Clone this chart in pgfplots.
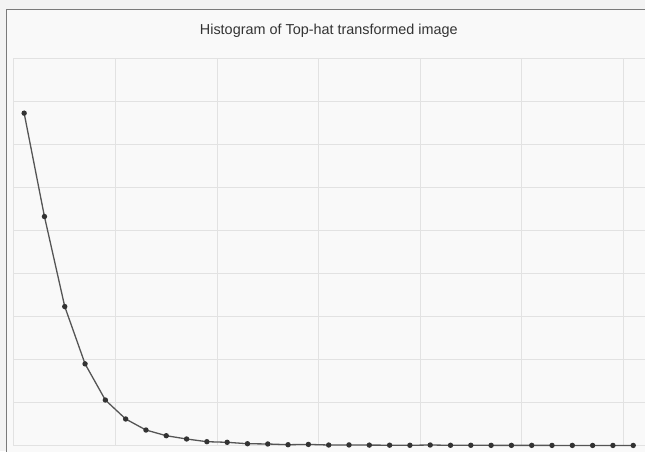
\documentclass[border=0pt]{standalone}
\usepackage{pgfplots}
\pgfplotsset{compat=1.18}
\usepackage{fontspec}
\setmainfont{Liberation Sans}

\definecolor{pagebg}{HTML}{F3F3F3}
\definecolor{panelbg}{HTML}{F9F9F9}
\definecolor{framecol}{HTML}{7A7A7A}
\definecolor{gridcol}{HTML}{E2E2E2}
\definecolor{linecol}{HTML}{555555}
\definecolor{markcol}{HTML}{333333}

\pgfplotstableread{
x     y
0.5   7.72
1.5   5.32
2.5   3.23
3.5   1.90
4.5   1.06
5.5   0.62
6.5   0.364
7.5   0.232
8.5   0.156
9.5   0.093
10.5  0.079
11.5  0.046
12.5  0.040
13.5  0.023
14.5  0.030
15.5  0.016
16.5  0.018
17.5  0.014
18.5  0.012
19.5  0.010
20.5  0.016
21.5  0.010
22.5  0.010
23.5  0.008
24.5  0.008
25.5  0.008
26.5  0.007
27.5  0.007
28.5  0.006
29.5  0.006
30.5  0.006
}\histdata

\begin{document}
\begin{tikzpicture}[x=1pt,y=1pt]
\useasboundingbox (0,0) rectangle (645,451);
\clip (0,0) rectangle (645,451);
\fill[pagebg] (0,0) rectangle (645,451);
\fill[panelbg] (6.5,-5) rectangle (660,441.5);
\draw[framecol, line width=1.8pt] (6.5,-5) -- (6.5,441.5) -- (660,441.5);
\node[anchor=base, font=\fontsize{14.4}{17}\selectfont, text=markcol, inner sep=0pt]
  at (328.8,416) {Histogram of Top-hat transformed image};
\begin{axis}[
  at={(14pt,5.3pt)}, anchor=origin,
  scale only axis,
  width=631pt, height=387.7pt,
  xmin=0, xmax=31.08,
  ymin=0, ymax=9,
  xtick={0,5,...,30},
  ytick={0,1,...,9},
  xticklabels={}, yticklabels={},
  major tick length=0pt,
  axis line style={draw=none},
  grid=major,
  grid style={gridcol, line width=1pt},
  clip=false,
]
\addplot[linecol, line width=1.3pt, mark=*, mark size=2pt,
  mark options={fill=markcol, draw=markcol}] table[x=x, y=y] {\histdata};
\end{axis}
\end{tikzpicture}
\end{document}
